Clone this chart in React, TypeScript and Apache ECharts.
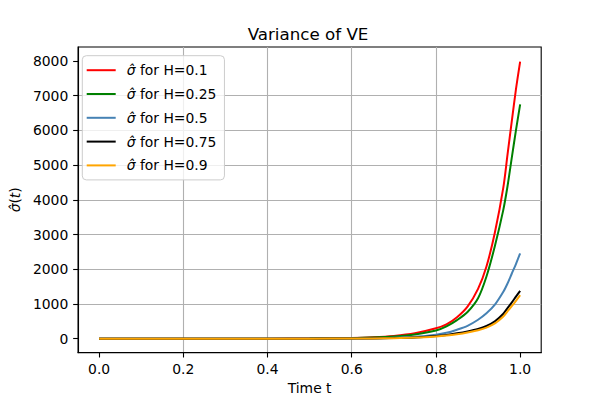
import React, { useEffect, useRef } from "react";
import * as echarts from "echarts";

const T_VALUES = [0, 0.1, 0.2, 0.3, 0.4, 0.5, 0.6, 0.65, 0.7, 0.75, 0.8, 0.825, 0.85, 0.875, 0.9, 0.92, 0.94, 0.96, 0.97, 0.98, 0.99, 1.0];
const H_LABELS = ["0.1", "0.25", "0.5", "0.75", "0.9"];
const SERIES_COLORS = ["#ff0000", "#008000", "#4682b4", "#000000", "#ffa500"];
const SIGMA_H01 = [1, 1, 1, 1, 2, 5, 21, 41, 80, 157, 300, 414, 620, 925, 1435, 2080, 3060, 4350, 5300, 6250, 7180, 7980];
const SIGMA_H025 = [1, 1, 1, 1, 2, 4, 16, 32, 62, 120, 235, 355, 535, 770, 1165, 1790, 2670, 3710, 4390, 5200, 6000, 6750];
const SIGMA_H05 = [1, 1, 1, 1, 1, 2, 6, 12, 27, 55, 115, 170, 260, 370, 545, 730, 980, 1350, 1590, 1870, 2150, 2460];
const SIGMA_H075 = [1, 1, 1, 1, 1, 2, 5, 9, 18, 38, 80, 110, 155, 210, 280, 365, 500, 720, 880, 1040, 1210, 1375];
const SIGMA_H09 = [1, 1, 1, 1, 1, 2, 4, 8, 15, 32, 66, 92, 130, 180, 245, 320, 440, 640, 790, 935, 1090, 1255];
const X_TICKS = [0, 0.2, 0.4, 0.6, 0.8, 1.0];
const Y_TICKS = [0, 1000, 2000, 3000, 4000, 5000, 6000, 7000, 8000];

const FONT = "DejaVu Sans";

export default function App() {
  const ref = useRef<HTMLDivElement>(null);
  useEffect(() => {
    if (!ref.current) return;
    const chart = echarts.init(ref.current, null, { renderer: "svg" });
    const all = [SIGMA_H01, SIGMA_H025, SIGMA_H05, SIGMA_H075, SIGMA_H09];
    const series = all.map((vals, i) => ({
      name: `σ̂ for H=${H_LABELS[i]}`,
      type: "line",
      data: T_VALUES.map((t, j) => [t, vals[j]]),
      symbol: "none",
      smooth: 0.3,
      lineStyle: { color: SERIES_COLORS[i], width: 2 },
      itemStyle: { color: SERIES_COLORS[i] },
      z: 3 + i,
    }));
    const axisCommon = {
      axisLine: { show: true, onZero: false, lineStyle: { color: "#000", width: 1.1 } },
      axisTick: { show: true, inside: false, length: 4.9, lineStyle: { color: "#000", width: 1.1 } },
      splitLine: { show: true, showMinLine: false, showMaxLine: false, lineStyle: { color: "#b0b0b0", width: 1.1 } },
    };
    chart.setOption({
      animation: false,
      textStyle: { fontFamily: FONT },
      graphic: [
        {
          type: "text",
          x: 308,
          y: 34,
          style: {
            text: "Variance of VE",
            fontFamily: FONT,
            fontSize: 16.7,
            fill: "#000",
            textAlign: "center",
            textVerticalAlign: "middle",
          },
        },
      ],
      grid: {
        left: 75.3,
        right: 58.8,
        top: 47,
        bottom: 43.6,
        show: true,
        borderColor: "#000",
        borderWidth: 1.1,
        backgroundColor: "transparent",
        containLabel: false,
      },
      legend: {
        orient: "vertical",
        left: 82.3,
        top: 55.7,
        padding: [7.5, 8, 7.5, 4.4],
        itemWidth: 29,
        itemHeight: 14,
        itemGap: 9.8,
        icon: "path://M0,0L29,0L29,2L0,2Z",
        backgroundColor: "rgba(255,255,255,0.8)",
        borderColor: "#cccccc",
        borderWidth: 1,
        borderRadius: 4,
        formatter: (name: string) => name.replace("σ̂", "{s|σ̂}"),
        textStyle: {
          fontFamily: FONT,
          fontSize: 13.9,
          color: "#000",
          padding: [0, 0, 0, 6],
          rich: {
            s: { fontFamily: FONT, fontSize: 13.9, fontStyle: "italic", color: "#000" },
          },
        },
      },
      xAxis: {
        type: "value",
        min: -0.05,
        max: 1.05,
        splitNumber: 5,
        ...axisCommon,
        axisTick: { ...axisCommon.axisTick, customValues: X_TICKS },
        axisLabel: {
          customValues: X_TICKS,
          margin: 9.5,
          color: "#000",
          fontFamily: FONT,
          fontSize: 13.9,
          formatter: (v: number) => v.toFixed(1),
        },
        name: "Time t",
        nameLocation: "middle",
        nameGap: 27,
        nameTextStyle: { fontFamily: FONT, fontSize: 13.9, color: "#000", verticalAlign: "top" },
      },
      yAxis: {
        type: "value",
        min: -400,
        max: 8400,
        splitNumber: 9,
        ...axisCommon,
        axisTick: { ...axisCommon.axisTick, customValues: Y_TICKS },
        axisLabel: {
          customValues: Y_TICKS,
          margin: 9.8,
          color: "#000",
          fontFamily: FONT,
          fontSize: 13.9,
          formatter: (v: number) => String(Math.round(v)),
        },
        name: "{i|σ̂}({i|t})",
        nameLocation: "middle",
        nameGap: 50,
        nameRotate: 90,
        nameTextStyle: {
          fontFamily: FONT,
          fontSize: 13.9,
          color: "#000",
          rich: {
            i: { fontFamily: FONT, fontSize: 13.9, fontStyle: "italic", color: "#000" },
          },
        },
      },
      series,
    });
    return () => chart.dispose();
  }, []);
  return (
    <div
      ref={ref}
      style={{ position: "fixed", left: 0, top: 0, width: 600, height: 400, background: "#fff" }}
    />
  );
}
